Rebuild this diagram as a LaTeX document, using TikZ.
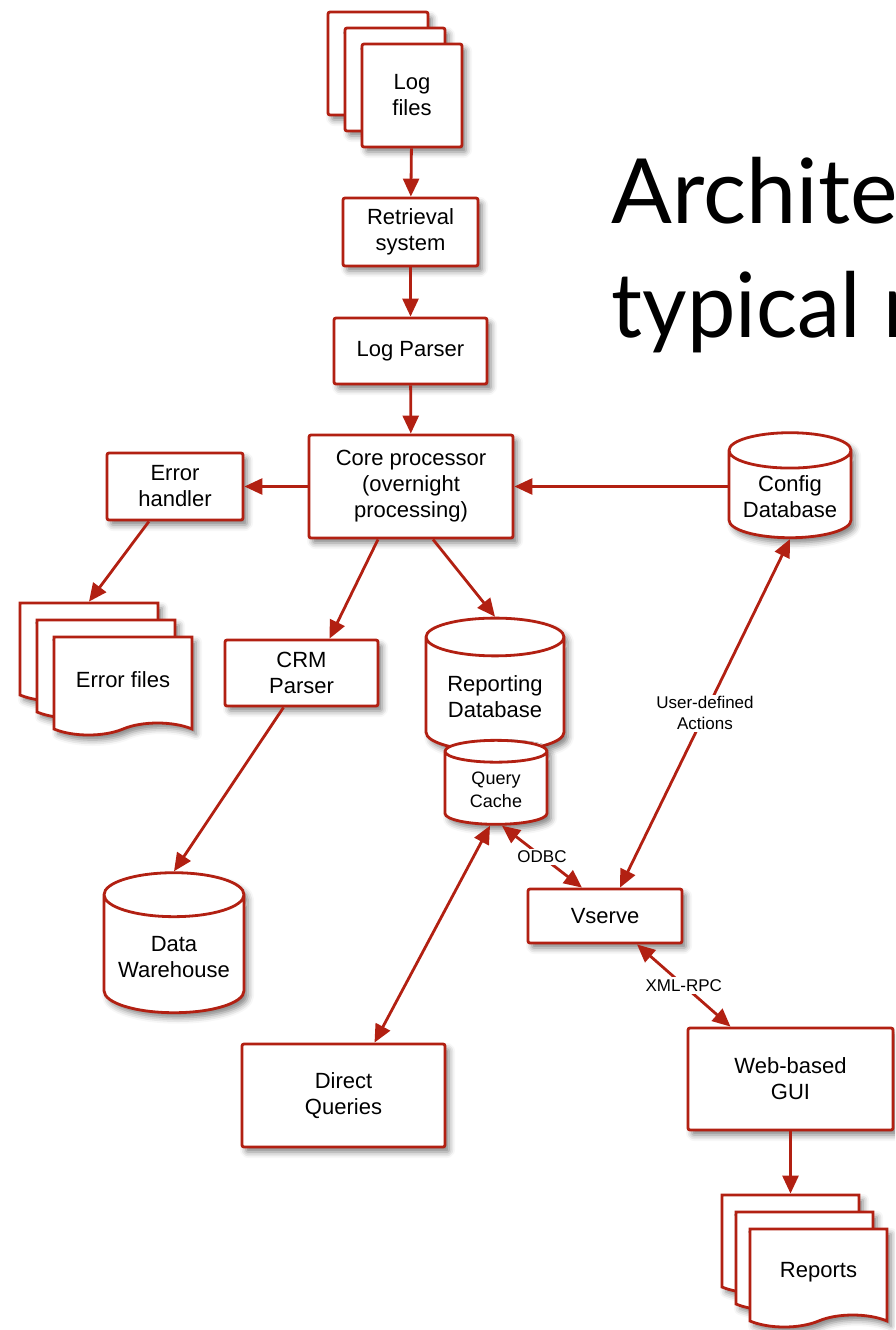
\documentclass[tikz,border=0pt]{standalone}
\usepackage{fontspec}
\setmainfont{Liberation Sans}
\newfontfamily\titlefont{Lato}
\usetikzlibrary{arrows.meta,shapes.geometric,shapes.symbols,shadows.blur}
\definecolor{flowred}{RGB}{178,32,18}

\tikzset{
  softshadow/.style={blur shadow={shadow xshift=4pt,shadow yshift=-5pt,shadow blur radius=6pt,shadow opacity=50}},
  procbox/.style={draw=flowred,line width=2.8pt,fill=white,rounded corners=2pt,align=center,
    font=\fontsize{22}{26}\selectfont,inner sep=2pt,softshadow},
  logsheet/.style={procbox,minimum width=100pt,minimum height=103pt},
  wavysheet/.style={procbox,sharp corners,tape,tape bend top=none,tape bend bottom=in and out,
    tape bend height=12pt,minimum width=138pt,minimum height=98pt},
  dbase/.style={procbox,sharp corners,cylinder,shape border rotate=90,aspect=0.38},
  feed/.style={flowred,line width=2.8pt,-{Triangle[length=18pt,width=16pt]}},
  twoway/.style={feed,{Triangle[length=18pt,width=16pt]}-{Triangle[length=18pt,width=16pt]}},
  linklabel/.style={fill=white,text=black,font=\fontsize{17}{21}\selectfont,align=center,inner sep=2pt},
}

\begin{document}
\begin{tikzpicture}[x=1pt,y=-1pt]
        \useasboundingbox (0,0) rectangle (895,1330);
        \clip (0,0) rectangle (895,1330);
        %Title
        \node[anchor=base west,font=\titlefont\fontsize{90}{114}\selectfont] (titleA) at (608,223) {Architecture};
        \node[anchor=base west,font=\titlefont\fontsize{90}{114}\selectfont] (titleB) at (608,337) {\scalebox{0.96}[1]{typical r}};
        %Input chain
        \node[logsheet] (logA) at (378,63.5) {};
        \node[logsheet] (logB) at (395,79.5) {};
        \node[logsheet] (logC) at (412,95.5) {Log\\files};
        \node[procbox,minimum width=135pt,minimum height=68pt] (retr) at (410.5,232) {Retrieval\\system};
        \node[procbox,minimum width=153pt,minimum height=66pt] (parser) at (410.5,351) {Log Parser};
        \node[procbox,minimum width=204pt,minimum height=103pt] (core) at (411,486.5) {Core processor\\(overnight\\processing)};
        \node[procbox,minimum width=136pt,minimum height=67pt] (errh) at (175,486.5) {Error\\handler};
        \node[dbase,minimum width=122pt,minimum height=105pt,aspect=0.36] (config) at (790,497) {Config\\Database};
        %Error files
        \node[wavysheet] (errA) at (89,646) {};
        \node[wavysheet] (errB) at (106,663) {};
        \node[wavysheet] (errC) at (123,680) {Error files};
        \node[procbox,minimum width=153pt,minimum height=66pt] (crm) at (301.5,673) {CRM\\Parser};
        %Databases
        \node[dbase,minimum width=138pt,minimum height=133pt] (repdb) at (495,697) {Reporting\\Database};
        \node[dbase,minimum width=102pt,minimum height=84pt,aspect=0.39,font=\fontsize{18}{23}\selectfont] (cache) at (496,790) {Query\\Cache};
        \node[dbase,minimum width=140pt,minimum height=140pt] (dw) at (174,957) {Data\\Warehouse};
        %Front ends
        \node[procbox,minimum width=154pt,minimum height=54pt] (vserve) at (605,916) {Vserve};
        \node[procbox,minimum width=203pt,minimum height=103pt] (dq) at (343.5,1095.5) {Direct\\Queries};
        \node[procbox,minimum width=205pt,minimum height=102pt] (gui) at (790.5,1079) {Web-based\\GUI};
        \node[wavysheet,minimum width=137pt] (repA) at (790.5,1238) {};
        \node[wavysheet,minimum width=137pt] (repB) at (804.5,1255) {};
        \node[wavysheet,minimum width=137pt] (repC) at (818.5,1272) {Reports};
        %Connectors
        \draw[feed] (logC) -- (retr);
        \draw[feed] (retr) -- (parser);
        \draw[feed] (parser) -- (core);
        \draw[feed] (core) -- (errh);
        \draw[feed] (core.east -| config.west) -- (core.east);
        \draw[feed] (errh) -- (errA.north);
        \draw[feed] ([xshift=-33pt]core.south) -- ([xshift=28pt]crm.north);
        \draw[feed] ([xshift=22pt]core.south) -- (repdb.north);
        \draw[feed] ([xshift=-18pt]crm.south) -- (dw.north);
        \draw[twoway] ([xshift=6pt]cache.south) -- node[linklabel] {ODBC} ([xshift=-23pt]vserve.north);
        \draw[twoway] ([xshift=-6pt]cache.south) -- ([xshift=31pt]dq.north);
        \draw[twoway] (config.south) -- node[linklabel] {User-defined\\Actions} ([xshift=15pt]vserve.north);
        \draw[twoway] ([xshift=32pt]vserve.south) -- node[linklabel] {XML-RPC} ([xshift=-60pt]gui.north);
        \draw[feed] (gui) -- (repA);
\end{tikzpicture}
\end{document}
